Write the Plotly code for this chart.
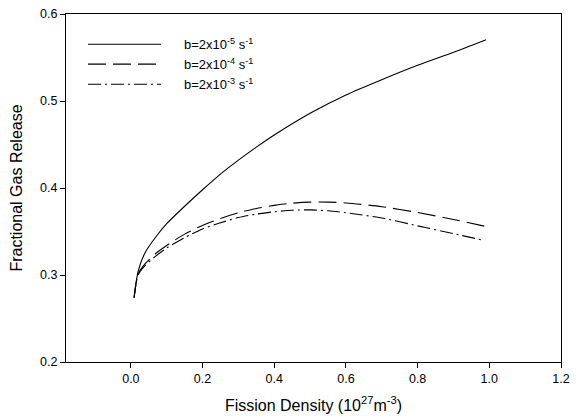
import plotly.graph_objects as go

# Fission density (10^27 m^-3) and fractional gas release
x_b5 = [0.009, 0.02, 0.04, 0.07, 0.1, 0.15, 0.2, 0.25, 0.3, 0.35, 0.4, 0.5, 0.6, 0.7,
        0.8, 0.9, 0.991]
y_b5 = [0.274, 0.304, 0.326, 0.344, 0.359, 0.379, 0.398, 0.416, 0.432, 0.447, 0.461, 0.486,
        0.507, 0.5245, 0.541, 0.556, 0.5705]

x_b4 = [0.009, 0.02, 0.04, 0.07, 0.1, 0.15, 0.2, 0.25, 0.3, 0.35, 0.4, 0.45, 0.5, 0.55,
        0.6, 0.7, 0.8, 0.9, 0.993]
y_b4 = [0.274, 0.301, 0.313, 0.325, 0.334, 0.347, 0.357, 0.365, 0.3715, 0.3765, 0.380, 0.3825,
        0.3838, 0.3838, 0.3828, 0.3785, 0.3718, 0.3638, 0.3555]

x_b3 = [0.009, 0.02, 0.04, 0.07, 0.1, 0.15, 0.2, 0.25, 0.3, 0.35, 0.4, 0.45, 0.5, 0.55,
        0.6, 0.7, 0.8, 0.9, 0.983]
y_b3 = [0.274, 0.300, 0.311, 0.322, 0.331, 0.343, 0.353, 0.360, 0.366, 0.370, 0.3727, 0.3745,
        0.3748, 0.3738, 0.3715, 0.3655, 0.3565, 0.3475, 0.340]

series_names = ["b=2x10<sup>-5</sup> s<sup>-1</sup>",
                "b=2x10<sup>-4</sup> s<sup>-1</sup>",
                "b=2x10<sup>-3</sup> s<sup>-1</sup>"]

x_ticks = [0.0, 0.2, 0.4, 0.6, 0.8, 1.0, 1.2]
x_tick_labels = ["0.0", "0.2", "0.4", "0.6", "0.8", "1.0", "1.2"]
y_ticks = [0.2, 0.3, 0.4, 0.5, 0.6]
y_tick_labels = ["0.2", "0.3", "0.4", "0.5", "0.6"]

dashes = ["solid", "18px,7px", "13px,4px,2px,4px"]
data = [(x_b5, y_b5), (x_b4, y_b4), (x_b3, y_b3)]

FONT = "Liberation Sans, Arial, sans-serif"

fig = go.Figure()
for (xs, ys), name, dash in zip(data, series_names, dashes):
    fig.add_trace(go.Scatter(x=xs, y=ys, mode="lines", name=name,
                             line=dict(color="black", width=1.1, dash=dash, shape="spline", smoothing=0.7),
                             showlegend=False))

# manual legend (long line samples as in the reference)
leg_y = [0.913, 0.856, 0.798]
for name, dash, ly in zip(series_names, dashes, leg_y):
    fig.add_shape(type="line", xref="paper", yref="paper", x0=0.0444, x1=0.192, y0=ly, y1=ly,
                  line=dict(color="black", width=1.1, dash=dash))
    fig.add_annotation(xref="paper", yref="paper", x=0.234, y=ly, xanchor="left", yanchor="middle",
                       text=name, showarrow=False, font=dict(family=FONT, size=13, color="black"))

fig.update_layout(
    width=583, height=416,
    margin=dict(l=66, r=22, t=14, b=54, autoexpand=False),
    paper_bgcolor="white", plot_bgcolor="white",
    font=dict(family=FONT, size=12.5, color="black"),
)
fig.update_xaxes(range=[-0.181, 1.2], tickvals=x_ticks, ticktext=x_tick_labels,
                 ticks="outside", ticklen=5, tickwidth=1, tickcolor="black",
                 showline=True, linecolor="black", linewidth=1.3, mirror=True,
                 showgrid=False, zeroline=False, automargin=False,
                 title=dict(text="Fission Density (10<sup>27</sup>m<sup>-3</sup>)",
                            font=dict(size=16), standoff=14))
fig.update_yaxes(range=[0.2, 0.6], tickvals=y_ticks, ticktext=y_tick_labels,
                 ticks="outside", ticklen=5, tickwidth=1, tickcolor="black",
                 showline=True, linecolor="black", linewidth=1.3, mirror=True,
                 showgrid=False, zeroline=False, automargin=False,
                 title=dict(text="Fractional Gas Release", font=dict(size=16), standoff=13))

fig.write_html("out.html", config={"displayModeBar": False},
               post_script="document.body.style.margin='0';document.body.style.overflow='hidden';")
